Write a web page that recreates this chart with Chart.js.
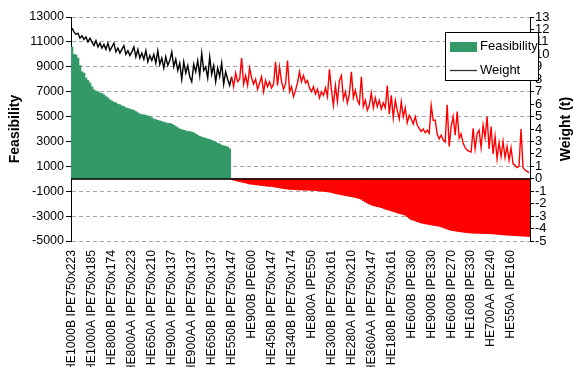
<!DOCTYPE html>
<html>
<head>
<meta charset="utf-8">
<script src="https://cdn.jsdelivr.net/npm/chart.js@4/dist/chart.umd.min.js"></script>
<style>
html,body{margin:0;padding:0;background:#fff;}
#wrap{width:574px;height:367px;}
</style>
</head>
<body>
<div id="wrap"><canvas id="c" width="574" height="367"></canvas></div>
<script>
// Category tick labels (every 10th section is labelled)
const tickLabels = [
  "HE1000B IPE750x223","HE1000A IPE750x185","HE800B IPE750x174","HE800AA IPE750x223",
  "HE650A IPE750x210","HE900A IPE750x137","HE900AA IPE750x137","HE650B IPE750x137",
  "HE550B IPE750x147","HE900B IPE600","HE450B IPE750x147","HE340B IPE750x174",
  "HE800A IPE550","HE300B IPE750x161","HE280A IPE750x210","HE360AA IPE750x147",
  "HE180B IPE750x161","HE600B IPE360","HE900B IPE330","HE600B IPE270",
  "HE160B IPE330","HE700AA IPE240","HE550A IPE160"
];

// Feasibility values (left axis)
const feasibility = [
  10600,10000,9950,9700,9100,8600,8500,8100,7900,7700,
  7400,7150,7050,7000,6900,6850,6750,6600,6500,6350,
  6250,6150,6100,6000,5950,5850,5800,5700,5650,5600,
  5550,5500,5400,5300,5200,5150,5150,5100,5050,5000,
  4900,4800,4750,4700,4650,4600,4550,4500,4450,4450,
  4400,4300,4200,4100,4000,3950,3900,3850,3800,3800,
  3750,3700,3600,3500,3400,3350,3300,3250,3200,3150,
  3100,3000,2950,2850,2800,2700,2650,2600,2550,2400,
  -50,-100,-150,-200,-230,-260,-300,-330,-380,-420,
  -440,-460,-480,-500,-520,-540,-560,-580,-600,-610,
  -620,-650,-680,-700,-730,-760,-790,-810,-830,-850,
  -860,-870,-880,-890,-900,-900,-910,-910,-920,-920,
  -930,-940,-950,-960,-980,-1000,-1010,-1030,-1050,-1070,
  -1100,-1150,-1190,-1220,-1250,-1290,-1320,-1350,-1380,-1410,
  -1440,-1470,-1500,-1540,-1590,-1650,-1760,-1860,-1950,-2030,
  -2100,-2160,-2200,-2240,-2270,-2320,-2380,-2440,-2490,-2530,
  -2580,-2630,-2680,-2740,-2790,-2830,-2870,-2930,-3050,-3170,
  -3280,-3330,-3380,-3440,-3500,-3550,-3590,-3620,-3650,-3680,
  -3710,-3740,-3770,-3790,-3820,-3870,-3920,-3980,-4040,-4090,
  -4140,-4170,-4200,-4220,-4250,-4270,-4290,-4310,-4330,-4350,
  -4360,-4370,-4380,-4380,-4390,-4390,-4400,-4400,-4410,-4410,
  -4420,-4430,-4440,-4460,-4480,-4490,-4510,-4520,-4530,-4540,
  -4550,-4560,-4570,-4580,-4590,-4600,-4610,-4620,-4630,-4640
];

// Weight values in tonnes (right axis)
const weight = [
  12.1,11.8,11.6,11.7,11.3,11.5,11.2,11.4,11.0,11.3,
  11.0,10.7,11.1,10.6,10.9,10.5,10.8,10.4,10.9,10.3,
  10.6,10.9,10.2,10.5,10.1,10.4,10.7,10.0,10.3,9.9,
  10.2,10.6,9.8,10.4,9.7,10.1,9.6,10.3,9.4,9.9,
  9.5,10.0,9.3,10.3,9.2,9.7,8.9,9.8,9.1,9.5,
  10.2,9.0,9.6,8.7,9.3,8.0,9.4,8.5,9.1,8.2,
  7.8,9.2,8.6,9.5,8.3,10.1,8.7,9.0,8.1,9.8,
  8.4,9.1,7.8,8.9,8.2,9.3,7.6,8.6,8.0,7.5,
  8.2,7.4,8.5,7.8,8.0,9.7,7.6,8.3,7.5,8.9,
  8.1,7.6,8.0,7.2,7.7,8.2,7.0,7.9,7.4,7.8,
  7.3,7.6,9.4,7.5,9.0,7.8,7.2,7.6,9.5,7.0,
  7.4,6.6,7.1,7.7,8.6,7.8,8.3,7.7,7.9,7.3,
  7.0,7.4,6.8,7.2,6.5,7.0,6.7,7.3,6.6,8.8,
  7.1,5.9,7.5,6.2,7.9,8.3,6.4,7.0,6.1,6.8,
  8.6,6.5,7.1,6.3,6.0,8.2,5.8,6.3,5.5,5.9,
  6.9,5.7,6.5,5.8,6.3,5.6,6.1,5.7,7.5,5.2,
  6.7,4.9,6.3,5.5,4.8,6.2,5.0,5.7,4.5,5.1,
  4.8,4.4,5.0,4.3,4.05,3.8,4.0,3.7,3.9,3.65,
  5.9,4.7,4.7,3.6,3.2,3.5,3.1,2.95,5.95,2.6,
  4.2,5.0,3.5,5.4,3.25,3.6,2.85,2.5,2.3,2.2,
  2.15,4.05,2.4,3.6,3.9,2.5,4.3,3.3,5.0,2.4,
  4.2,2.0,3.4,1.6,2.9,1.8,3.0,1.7,2.6,1.5,
  2.5,1.2,1.1,0.9,1.0,4.0,0.9,0.7,0.6,0.5
];

const categories = feasibility.map((_, i) => (i % 10 === 0 ? tickLabels[i / 10] : ''));

const GREEN = '#339966';
const RED = '#FF0000';
const FONT = "'Liberation Sans', Arial, sans-serif";

const extras = {
  id: 'extras',
  afterDatasetsDraw(chart) {
    const {ctx, chartArea, scales} = chart;
    const y0 = Math.round(scales.y.getPixelForValue(0));
    ctx.save();
    ctx.strokeStyle = '#000';
    ctx.lineWidth = 1.6;
    ctx.beginPath();
    ctx.moveTo(chartArea.left, y0);
    ctx.lineTo(chartArea.right, y0);
    ctx.stroke();
    ctx.restore();
  },
  afterDraw(chart) {
    const {ctx, chartArea} = chart;
    ctx.save();
    // right axis title (reads bottom to top)
    ctx.translate(566, (chartArea.top + chartArea.bottom) / 2);
    ctx.rotate(-Math.PI / 2);
    ctx.fillStyle = '#000';
    ctx.font = "bold 14px " + FONT;
    ctx.textAlign = 'center';
    ctx.textBaseline = 'middle';
    ctx.fillText('Weight (t)', 0, 0);
    ctx.restore();

    // legend box
    ctx.save();
    ctx.fillStyle = '#fff';
    ctx.fillRect(445, 32, 94, 49);
    ctx.strokeStyle = '#000';
    ctx.lineWidth = 1;
    ctx.strokeRect(445.5, 32.5, 93, 48);
    ctx.fillStyle = GREEN;
    ctx.fillRect(450, 42, 27, 10);
    ctx.strokeStyle = '#333';
    ctx.lineWidth = 1.3;
    ctx.beginPath();
    ctx.moveTo(450, 70.5);
    ctx.lineTo(477, 70.5);
    ctx.stroke();
    ctx.fillStyle = '#000';
    ctx.font = "13px " + FONT;
    ctx.textAlign = 'left';
    ctx.textBaseline = 'middle';
    ctx.fillText('Feasibility', 480, 46);
    ctx.fillText('Weight', 480, 70);
    ctx.restore();
  }
};

new Chart(document.getElementById('c'), {
  data: {
    labels: categories,
    datasets: [
      {
        type: 'line',
        label: 'Weight',
        data: weight,
        yAxisID: 'y1',
        borderColor: '#000',
        borderWidth: 1.4,
        pointRadius: 0,
        tension: 0,
        segment: {
          borderColor: c => (feasibility[c.p0DataIndex] >= 0 ? '#000' : RED)
        },
        order: 0
      },
      {
        type: 'bar',
        label: 'Feasibility',
        data: feasibility,
        yAxisID: 'y',
        backgroundColor: feasibility.map(v => (v >= 0 ? GREEN : RED)),
        borderWidth: 0,
        barPercentage: 1.0,
        categoryPercentage: 1.0,
        order: 1
      }
    ]
  },
  options: {
    responsive: false,
    animation: false,
    layout: {padding: {top: 17, left: 0, right: 0, bottom: 0}},
    plugins: {legend: {display: false}, tooltip: {enabled: false}},
    scales: {
      x: {
        type: 'category',
        grid: {display: false},
        border: {display: false},
        afterFit: s => { s.height = 126; },
        ticks: {
          autoSkip: false,
          minRotation: 90,
          maxRotation: 90,
          padding: 1,
          color: '#000',
          font: {family: FONT, size: 12.2},
          callback: (v, i) => categories[i]
        }
      },
      y: {
        position: 'left',
        min: -5000,
        max: 13000,
        afterFit: s => { s.width = 71; },
        ticks: {
          stepSize: 2000,
          color: '#000',
          padding: 2,
          font: {family: FONT, size: 12.5},
          callback: v => String(v)
        },
        grid: {
          color: '#a6a6a6',
          tickColor: '#000',
          tickLength: 5,
          lineWidth: 1
        },
        border: {display: true, color: '#000', width: 1, dash: [4, 3]},
        title: {
          display: true,
          text: 'Feasibility',
          color: '#000',
          padding: {top: 7, bottom: 0},
          font: {family: FONT, size: 14, weight: 'bold'}
        }
      },
      y1: {
        position: 'right',
        min: -5,
        max: 13,
        afterFit: s => { s.width = 44; },
        ticks: {
          stepSize: 1,
          autoSkip: false,
          color: '#000',
          padding: 1,
          z: 1,
          font: {family: FONT, size: 13},
          callback: v => String(v)
        },
        grid: {
          drawOnChartArea: false,
          tickColor: '#000',
          tickLength: 4
        },
        border: {display: true, color: '#000', width: 1}
      }
    }
  },
  plugins: [extras]
});
</script>
</body>
</html>
